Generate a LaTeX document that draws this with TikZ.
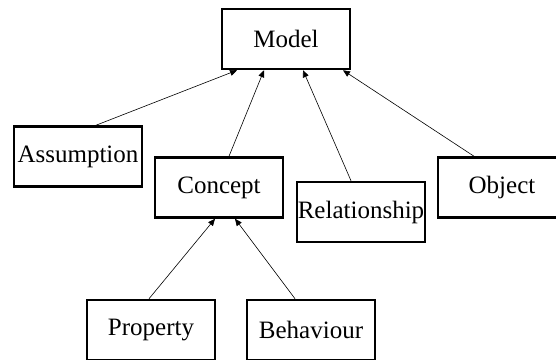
\documentclass[tikz,border=0pt]{standalone}
\usepackage{fontspec}
\setmainfont{Liberation Serif}
\usetikzlibrary{arrows.meta}
\begin{document}
\begin{tikzpicture}[x=1pt,y=-1pt,
  box/.style={draw=black,line width=2.5pt,rectangle,minimum width=128pt,minimum height=60pt,inner sep=0pt,font=\fontsize{25}{28}\selectfont},
  link/.style={line width=0.6pt,-{Triangle[length=7pt,width=6pt]}}]
\useasboundingbox (0,0) rectangle (556,359);
\node[box] (model) at (286,39) {Model};
\node[box] (asm) at (78,156.5) {Assumption};
\node[box] (concept) at (219,187.5) {Concept};
\node[box] (rel) at (361,212) {Relationship};
\node[box] (obj) at (502,187.5) {Object};
\node[box] (prop) at (151,330) {Property};
\node[box] (beh) at (311,330) {Behaviour};
\draw[link] ([xshift=18pt]asm.north) -- ([xshift=-49pt]model.south);
\draw[link] ([xshift=10pt]concept.north) -- ([xshift=-22pt]model.south);
\draw[link] ([xshift=-10pt]rel.north) -- ([xshift=17pt]model.south);
\draw[link] ([xshift=-28pt]obj.north) -- ([xshift=57pt]model.south);
\draw[link] ([xshift=-2pt]prop.north) -- ([xshift=-4pt]concept.south);
\draw[link] ([xshift=-16pt]beh.north) -- ([xshift=16pt]concept.south);
\end{tikzpicture}
\end{document}
